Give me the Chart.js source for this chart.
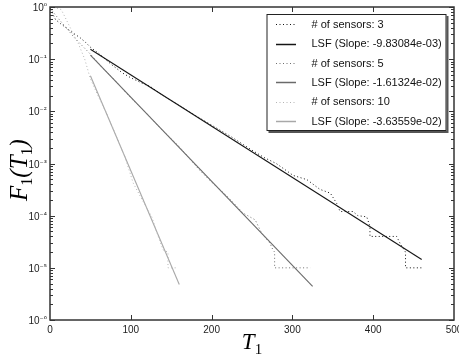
<!DOCTYPE html>
<html><head><meta charset="utf-8">
<script src="https://cdn.jsdelivr.net/npm/chart.js@4.4.1/dist/chart.umd.min.js"></script>
<style>html,body{margin:0;padding:0;background:#fff}#wrap{width:459px;height:355px}</style>
</head><body><div id="wrap"><canvas id="c" width="459" height="355"></canvas></div>
<script>
// ---- data ----
const xTickValues = [0, 100, 200, 300, 400, 500];
const yDecadeExponents = [-6, -5, -4, -3, -2, -1, 0];

const labelsSeries = [
  '# of sensors: 3', 'LSF (Slope: -9.83084e-03)',
  '# of sensors: 5', 'LSF (Slope: -1.61324e-02)',
  '# of sensors: 10', 'LSF (Slope: -3.63559e-02)'
];

const sensors3T = [0, 3, 7, 13, 20, 28, 37, 44, 50, 60, 76, 90, 100, 115, 124, 140, 160, 180, 206, 225, 250, 265, 280, 301, 318, 334, 347, 355, 359, 375, 381, 392, 396, 396, 429, 433, 440, 440, 460];
const sensors3F = [0.9, 0.76, 0.57, 0.48, 0.40, 0.32, 0.26, 0.21, 0.17, 0.13, 0.079, 0.054, 0.044, 0.034, 0.030, 0.020, 0.013, 0.0083, 0.0048, 0.0032, 0.0018, 0.0013, 0.001, 5.9e-4, 4.9e-4, 3.2e-4, 2.7e-4, 1.7e-4, 1.2e-4, 1.2e-4, 1.0e-4, 9.5e-5, 6.2e-5, 4e-5, 4e-5, 3e-5, 2e-5, 1e-5, 1e-5];

const lsf3T = [50, 460];
const lsf3F = [0.155, 1.45e-5];

const sensors5T = [0, 5, 12, 20, 30, 40, 50, 65, 80, 100, 120, 140, 160, 185, 200, 220, 239, 254, 262, 272, 276, 278, 278, 322];
const sensors5F = [0.96, 0.76, 0.56, 0.40, 0.26, 0.18, 0.125, 0.068, 0.040, 0.018, 0.0090, 0.0042, 0.0021, 7.5e-4, 4.4e-4, 2.3e-4, 1.12e-4, 8.3e-5, 4.6e-5, 3.0e-5, 2.2e-5, 2e-5, 1e-5, 1e-5];

const lsf5T = [50, 325];
const lsf5F = [0.120, 4.4e-6];

const sensors10T = [0, 8, 14, 22, 30, 35, 43, 50, 60, 70, 80, 93, 103, 115, 126, 132, 140, 146, 146, 158];
const sensors10F = [0.99, 0.96, 0.89, 0.50, 0.28, 0.20, 0.10, 0.042, 0.019, 0.0092, 0.0040, 1.3e-3, 4.2e-4, 1.9e-4, 9.5e-5, 4.9e-5, 2.2e-5, 2e-5, 1e-5, 1e-5];

const lsf10T = [50, 160];
const lsf10F = [0.048, 4.8e-6];

// ---- build ----
const pts = (xs, ys) => xs.map((x, i) => ({x: x, y: ys[i]}));
const DOT = [1, 2.5];
const styles = [
  {c: '#111111', d: DOT, w: 1},
  {c: '#151515', d: [], w: 1.1},
  {c: '#6e6e6e', d: DOT, w: 1},
  {c: '#6a6a6a', d: [], w: 1.1},
  {c: '#b4b4b4', d: DOT, w: 1},
  {c: '#a8a8a8', d: [], w: 1.1}
];
const seriesData = [
  pts(sensors3T, sensors3F), pts(lsf3T, lsf3F),
  pts(sensors5T, sensors5F), pts(lsf5T, lsf5F),
  pts(sensors10T, sensors10F), pts(lsf10T, lsf10F)
];
const datasets = seriesData.map((d, i) => ({
  label: labelsSeries[i], data: d, showLine: true, pointRadius: 0,
  borderColor: styles[i].c, borderDash: styles[i].d, borderWidth: styles[i].w,
  tension: 0, fill: false
}));

const SUP = {'-': '\u207B', '0': '\u2070', '1': '\u00B9', '2': '\u00B2', '3': '\u00B3', '4': '\u2074', '5': '\u2075', '6': '\u2076'};

function drawMath(ctx, parts, x, y, big, small) {
  const fb = 'italic ' + big + 'px "Liberation Serif"', fs = small + 'px "Liberation Serif"';
  let widths = parts.map(p => { ctx.font = p[1] ? fs : fb; return ctx.measureText(p[0]).width; });
  let total = widths.reduce((a, b) => a + b, 0);
  let cx = x - total / 2;
  parts.forEach((p, i) => {
    ctx.font = p[1] ? fs : fb;
    ctx.fillText(p[0], cx, y + (p[1] ? 5 : 0));
    cx += widths[i];
  });
}

const framePlugin = {
  id: 'frame',
  afterDatasetsDraw(chart) {
    const ctx = chart.ctx, a = chart.chartArea;
    const xs = chart.scales.x, ys = chart.scales.y;
    ctx.save();
    ctx.strokeStyle = '#333';
    ctx.lineWidth = 1.5;
    ctx.strokeRect(a.left, a.top, a.right - a.left, a.bottom - a.top);
    ctx.lineWidth = 1;
    ctx.beginPath();
    xTickValues.forEach(v => {
      if (v === 0 || v === 500) return;
      const px = Math.round(xs.getPixelForValue(v)) + 0.5;
      ctx.moveTo(px, a.bottom); ctx.lineTo(px, a.bottom - 5);
      ctx.moveTo(px, a.top); ctx.lineTo(px, a.top + 5);
    });
    yDecadeExponents.forEach(e => {
      const py = Math.round(ys.getPixelForValue(Math.pow(10, e))) + 0.5;
      ctx.moveTo(a.left, py); ctx.lineTo(a.left + 5, py);
      ctx.moveTo(a.right, py); ctx.lineTo(a.right - 5, py);
      if (e < 0) {
        for (let m = 2; m <= 9; m++) {
          const p = Math.round(ys.getPixelForValue(m * Math.pow(10, e))) + 0.5;
          ctx.moveTo(a.left, p); ctx.lineTo(a.left + 3, p);
          ctx.moveTo(a.right, p); ctx.lineTo(a.right - 3, p);
        }
      }
    });
    ctx.stroke();

    // y tick labels (10^e)
    ctx.fillStyle = '#222';
    ctx.textBaseline = 'alphabetic';
    ctx.textAlign = 'left';
    yDecadeExponents.forEach(e => {
      const py = ys.getPixelForValue(Math.pow(10, e));
      const sup = String(e).split('').map(ch => SUP[ch]).join('');
      ctx.font = '8px "DejaVu Sans"';
      const sw = ctx.measureText(sup).width;
      ctx.font = '10px "Liberation Sans"';
      const bw = ctx.measureText('10').width;
      const right = a.left - 3;
      ctx.fillText('10', right - sw - bw, py + 4);
      ctx.font = '8px "DejaVu Sans"';
      ctx.fillText(sup, right - sw, py + 2);
    });

    // axis titles
    ctx.fillStyle = '#000';
    drawMath(ctx, [['T', false], ['1', true]], 252, 349, 23, 15);
    ctx.save();
    ctx.translate(27, 170);
    ctx.rotate(-Math.PI / 2);
    drawMath(ctx, [['F', false], ['1', true], ['(', false], ['T', false], ['1', true], [')', false]], 0, 0, 25, 16);
    ctx.restore();

    // legend
    const L = {x: 266.5, y: 14, w: 180, h: 117};
    ctx.fillStyle = '#555';
    ctx.fillRect(L.x + 2, L.y + 2, L.w, L.h);
    ctx.fillStyle = '#fff';
    ctx.fillRect(L.x, L.y, L.w, L.h);
    ctx.strokeStyle = '#222';
    ctx.lineWidth = 1;
    ctx.strokeRect(L.x + 0.5, L.y + 0.5, L.w - 1, L.h - 1);
    const rowY = [24, 43.5, 63, 82, 101.5, 121];
    chart.data.datasets.forEach((ds, i) => {
      const y = Math.round(rowY[i]) + 0.5;
      ctx.strokeStyle = ds.borderColor;
      ctx.lineWidth = ds.borderDash.length ? 1 : 1.5;
      ctx.setLineDash(ds.borderDash);
      ctx.beginPath(); ctx.moveTo(276, y); ctx.lineTo(296, y); ctx.stroke();
      ctx.setLineDash([]);
      ctx.fillStyle = '#111';
      ctx.font = '11px "Liberation Sans"';
      ctx.textBaseline = 'middle';
      ctx.fillText(ds.label, 311.5, rowY[i] + 0.5);
    });
    ctx.restore();
  }
};

new Chart(document.getElementById('c'), {
  type: 'scatter',
  data: {datasets: datasets},
  options: {
    responsive: false, animation: false,
    layout: {padding: {left: 0, right: 5, top: 7, bottom: 0}},
    plugins: {legend: {display: false}, tooltip: {enabled: false}},
    scales: {
      x: {
        type: 'linear', min: 0, max: 500,
        afterBuildTicks: s => { s.ticks = xTickValues.map(v => ({value: v})); },
        grid: {display: false, drawTicks: false},
        border: {display: false},
        ticks: {padding: 4, color: '#222', font: {family: 'Liberation Sans', size: 10}, maxRotation: 0, autoSkip: false},
        afterFit: s => { s.height = 35; s.paddingLeft = 0; s.paddingRight = 0; }
      },
      y: {
        type: 'logarithmic', min: 1e-6, max: 1,
        grid: {display: false, drawTicks: false},
        border: {display: false},
        ticks: {display: false},
        afterFit: s => { s.width = 50; s.paddingTop = 0; s.paddingBottom = 0; }
      }
    }
  },
  plugins: [framePlugin]
});
</script>
</body></html>
